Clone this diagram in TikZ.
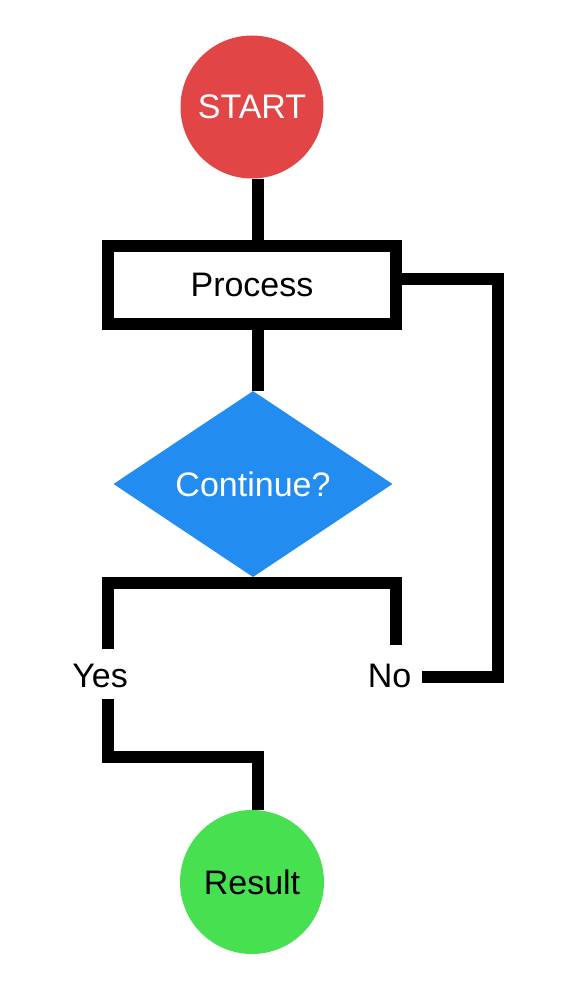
\documentclass[tikz,border=0pt]{standalone}
\usepackage{fontspec}
\setmainfont{Liberation Sans}
\usetikzlibrary{shapes.geometric,backgrounds}
\definecolor{startred}{RGB}{226,69,69}
\definecolor{decblue}{RGB}{34,140,240}
\definecolor{resgreen}{RGB}{70,224,80}
\tikzset{
  lbl/.style={font=\fontsize{34}{40}\selectfont},
  conn/.style={draw=black,line width=12pt,line cap=butt,line join=miter},
  termnode/.style={circle,inner sep=0pt,minimum size=143pt,lbl},
  procbox/.style={rectangle,draw=black,line width=12pt,fill=white,minimum width=288pt,minimum height=77.5pt,inner sep=0pt,lbl},
  decnode/.style={diamond,fill=decblue,text=white,minimum width=279pt,minimum height=186pt,aspect=1.5,inner sep=0pt,lbl},
  branch/.style={lbl,inner sep=11pt,anchor=base}
}
\begin{document}
\begin{tikzpicture}[x=1pt,y=-1pt]
\useasboundingbox (0,0) rectangle (573,990);
\node[termnode,fill=startred,text=white] (start) at (252,107) {START};
\node[procbox] (process) at (252,284.75) {Process};
\node[decnode] (decision) at (253,484) {Continue?};
\node[branch] (yes) at (100,687) {Yes};
\node[branch] (no) at (389.5,687) {No};
\node[termnode,fill=resgreen,text=black,minimum size=144pt] (result) at (252,882) {Result};
\coordinate (split) at ([yshift=-6pt]decision.south);
\coordinate (loopc) at (497.5,279);
\coordinate (ymid) at (258,756.5);
\begin{scope}[on background layer]
\draw[conn] ([xshift=6pt]start.south) -- ([xshift=6pt]process.north);
\draw[conn] ([xshift=6pt]process.south) -- ([xshift=5pt]decision.north);
\draw[conn] ([xshift=8pt,yshift=3pt]yes.north) |- (split) -| ([xshift=6.5pt,yshift=7pt]no.north);
\draw[conn] ([yshift=-2pt]no.east) -| (loopc) -- (loopc -| process.east);
\draw[conn] ([xshift=8pt]yes.south) |- (ymid) -- ([xshift=6pt]result.north);
\end{scope}
\end{tikzpicture}
\end{document}
